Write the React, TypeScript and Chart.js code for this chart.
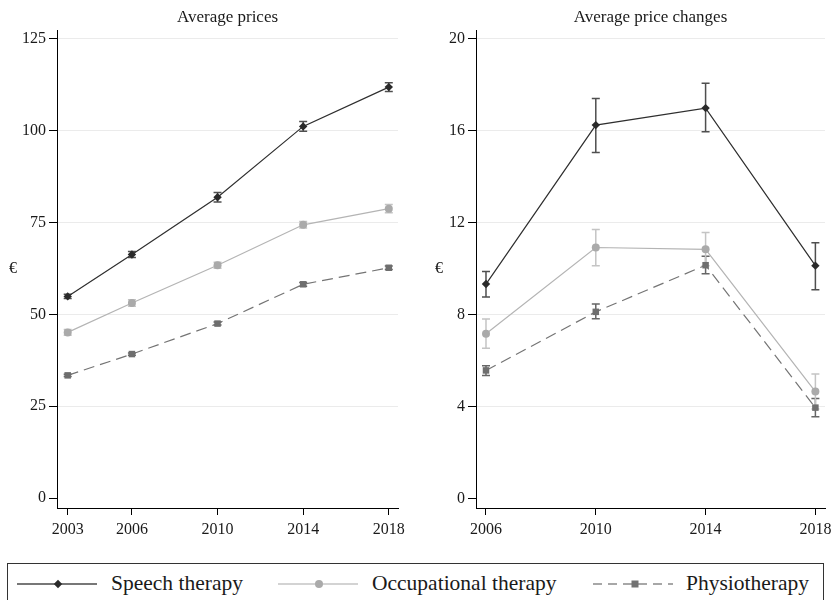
import React, { useEffect, useRef } from "react";
import { Chart, registerables } from "chart.js";

Chart.register(...registerables);

// ---- Data -------------------------------------------------------------
const priceYears = [2003, 2006, 2010, 2014, 2018];
const changeYears = [2006, 2010, 2014, 2018];
const priceTicks = [0, 25, 50, 75, 100, 125];
const changeTicks = [0, 4, 8, 12, 16, 20];

// Average prices (€) with 95% confidence bounds
const speechPrice = [54.9, 66.3, 81.9, 101.2, 111.9];
const speechPriceLo = [54.3, 65.5, 80.6, 99.9, 110.7];
const speechPriceHi = [55.5, 67.1, 83.2, 102.5, 113.1];

const occupPrice = [45.1, 53.1, 63.4, 74.4, 78.8];
const occupPriceLo = [44.3, 52.2, 62.6, 73.5, 77.7];
const occupPriceHi = [45.9, 54.0, 64.2, 75.3, 79.9];

const physioPrice = [33.4, 39.2, 47.5, 58.2, 62.7];
const physioPriceLo = [33.1, 38.9, 47.1, 57.7, 62.2];
const physioPriceHi = [33.7, 39.5, 47.9, 58.7, 63.2];

// Average price changes (€) with 95% confidence bounds
const speechChange = [9.33, 16.25, 16.99, 10.13];
const speechChangeLo = [8.77, 15.06, 15.96, 9.08];
const speechChangeHi = [9.88, 17.41, 18.07, 11.13];

const occupChange = [7.17, 10.92, 10.84, 4.65];
const occupChangeLo = [6.54, 10.13, 10.13, 3.89];
const occupChangeHi = [7.81, 11.71, 11.57, 5.41];

const physioChange = [5.57, 8.12, 10.15, 3.95];
const physioChangeLo = [5.35, 7.82, 9.78, 3.55];
const physioChangeHi = [5.77, 8.46, 10.54, 4.35];

const seriesNames = ["Speech therapy", "Occupational therapy", "Physiotherapy"];
const panelTitles = ["Average prices", "Average price changes"];
const unitLabel = "€";

// ---- Styling ----------------------------------------------------------
const SERIF = "'Liberation Serif', 'Times New Roman', serif";
const TEXT = "#1a1a1a";

const styles = [
  { line: "#2e2e2e", point: "#2a2a2a", err: "#4f4f4f", pointStyle: "rectRot", radius: 4.2, dash: [] as number[] },
  { line: "#b4b4b4", point: "#aaaaaa", err: "#c4c4c4", pointStyle: "circle", radius: 4, dash: [] as number[] },
  { line: "#747474", point: "#6e6e6e", err: "#666666", pointStyle: "rect", radius: 4.6, dash: [11, 6] },
];

// Vertical confidence-interval caps drawn beneath the lines
const errorBars = {
  id: "errorBars",
  beforeDatasetsDraw(chart: any) {
    const { ctx } = chart;
    const yScale = chart.scales.y;
    const n = chart.data.datasets.length;
    for (let i = n - 1; i >= 0; i--) {
      const ds: any = chart.data.datasets[i];
      if (!ds.lower || !ds.upper) continue;
      const meta = chart.getDatasetMeta(i);
      ctx.save();
      ctx.strokeStyle = ds.errorColor;
      ctx.lineWidth = 1.5;
      meta.data.forEach((pt: any, j: number) => {
        const x = pt.x;
        const y1 = yScale.getPixelForValue(ds.lower[j]);
        const y2 = yScale.getPixelForValue(ds.upper[j]);
        ctx.beginPath();
        ctx.moveTo(x, y1);
        ctx.lineTo(x, y2);
        ctx.moveTo(x - 4, y1);
        ctx.lineTo(x + 4, y1);
        ctx.moveTo(x - 4, y2);
        ctx.lineTo(x + 4, y2);
        ctx.stroke();
      });
      ctx.restore();
    }
  },
};

// Upright unit label to the left of the y axis
const unitPlugin = {
  id: "unitLabel",
  afterDraw(chart: any, _args: any, opts: any) {
    const { ctx, chartArea } = chart;
    ctx.save();
    ctx.font = `16px ${SERIF}`;
    ctx.fillStyle = TEXT;
    ctx.textAlign = "center";
    ctx.textBaseline = "middle";
    ctx.fillText(opts.text, opts.x, (chartArea.top + chartArea.bottom) / 2);
    ctx.restore();
  },
};

type Panel = {
  years: number[];
  ticks: number[];
  series: number[][];
  lows: number[][];
  highs: number[][];
  title: string;
  xMin: number;
  xMax: number;
  yMin: number;
  yMax: number;
  yWidth: number;
  padRight: number;
  unitX: number;
};

function buildConfig(p: Panel): any {
  return {
    type: "line",
    data: {
      datasets: p.series.map((vals, i) => ({
        label: seriesNames[i],
        data: vals.map((v, j) => ({ x: p.years[j], y: v })),
        lower: p.lows[i],
        upper: p.highs[i],
        errorColor: styles[i].err,
        borderColor: styles[i].line,
        borderWidth: 1.2,
        borderDash: styles[i].dash,
        pointStyle: styles[i].pointStyle,
        pointRadius: styles[i].radius,
        pointBackgroundColor: styles[i].point,
        pointBorderColor: styles[i].point,
        pointBorderWidth: 0,
        tension: 0,
        fill: false,
      })),
    },
    options: {
      responsive: false,
      animation: false,
      events: [],
      layout: { padding: { left: 0, top: 0, right: p.padRight, bottom: 0 } },
      plugins: {
        legend: { display: false },
        tooltip: { enabled: false },
        title: {
          display: true,
          text: p.title,
          fullSize: false,
          color: TEXT,
          font: { family: SERIF, size: 17, weight: "normal", lineHeight: 1.2 },
          padding: { top: 7, bottom: 2.6 },
        },
        unitLabel: { text: unitLabel, x: p.unitX },
      },
      scales: {
        x: {
          type: "linear",
          min: p.xMin,
          max: p.xMax,
          afterBuildTicks: (s: any) => {
            s.ticks = p.years.map((v) => ({ value: v }));
          },
          afterFit: (s: any) => {
            s.height = 37;
            s.paddingLeft = 0;
            s.paddingRight = 0;
          },
          ticks: {
            color: TEXT,
            font: { family: SERIF, size: 16 },
            padding: 5,
            maxRotation: 0,
            autoSkip: false,
            callback: (v: any) => String(v),
          },
          grid: {
            display: true,
            drawOnChartArea: false,
            drawTicks: true,
            tickLength: 7,
            tickColor: "#000",
            tickWidth: 1,
          },
          border: { display: true, color: "#000", width: 1 },
        },
        y: {
          type: "linear",
          min: p.yMin,
          max: p.yMax,
          afterBuildTicks: (s: any) => {
            s.ticks = p.ticks.map((v) => ({ value: v }));
          },
          afterFit: (s: any) => {
            s.width = p.yWidth;
            s.paddingTop = 0;
            s.paddingBottom = 0;
          },
          ticks: {
            color: TEXT,
            font: { family: SERIF, size: 16 },
            padding: 3,
            autoSkip: false,
            callback: (v: any) => String(v),
          },
          grid: {
            display: true,
            drawTicks: true,
            tickLength: 8,
            tickColor: "#000",
            tickWidth: 1,
            lineWidth: 1,
            color: (c: any) => (c.tick && c.tick.value === 0 ? "rgba(0,0,0,0)" : "#ebebeb"),
          },
          border: { display: true, color: "#000", width: 1 },
        },
      },
    },
    plugins: [errorBars, unitPlugin],
  };
}

const leftPanel: Panel = {
  years: priceYears,
  ticks: priceTicks,
  series: [speechPrice, occupPrice, physioPrice],
  lows: [speechPriceLo, occupPriceLo, physioPriceLo],
  highs: [speechPriceHi, occupPriceHi, physioPriceHi],
  title: panelTitles[0],
  xMin: 2002.5,
  xMax: 2018.43,
  yMin: -2.72,
  yMax: 127.45,
  yWidth: 57,
  padRight: 12,
  unitX: 13,
};

const rightPanel: Panel = {
  years: changeYears,
  ticks: changeTicks,
  series: [speechChange, occupChange, physioChange],
  lows: [speechChangeLo, occupChangeLo, physioChangeLo],
  highs: [speechChangeHi, occupChangeHi, physioChangeHi],
  title: panelTitles[1],
  xMin: 2005.636,
  xMax: 2018.35,
  yMin: -0.42,
  yMax: 20.39,
  yWidth: 66,
  padRight: 7,
  unitX: 29,
};

function PanelChart({ panel, left, width }: { panel: Panel; left: number; width: number }) {
  const ref = useRef<HTMLCanvasElement | null>(null);
  useEffect(() => {
    if (!ref.current) return;
    const chart = new Chart(ref.current, buildConfig(panel));
    return () => chart.destroy();
  }, [panel]);
  return (
    <canvas
      ref={ref}
      width={width}
      height={545}
      style={{ position: "absolute", left, top: 0, width, height: 545 }}
    />
  );
}

function Legend() {
  const cy = 29;
  const fs = 21.5;
  return (
    <svg
      width={832}
      height={45}
      style={{ position: "absolute", left: 0, top: 555 }}
      fontFamily={SERIF}
    >
      <rect x={7.5} y={8.5} width={816} height={60} fill="none" stroke="#333" strokeWidth={1} />
      {/* Speech therapy */}
      <line x1={17} x2={97} y1={cy} y2={cy} stroke="#4a4a4a" strokeWidth={1.5} />
      <polygon points={`58,${cy - 4.2} 62.2,${cy} 58,${cy + 4.2} 53.8,${cy}`} fill="#2a2a2a" />
      <text x={111} y={35} fontSize={fs} fill={TEXT}>{seriesNames[0]}</text>
      {/* Occupational therapy */}
      <line x1={278} x2={358} y1={cy} y2={cy} stroke="#c4c4c4" strokeWidth={1.5} />
      <circle cx={319} cy={cy} r={4} fill="#aaaaaa" />
      <text x={372} y={35} fontSize={fs} fill={TEXT}>{seriesNames[1]}</text>
      {/* Physiotherapy */}
      <line x1={593} x2={673} y1={cy} y2={cy} stroke="#8a8a8a" strokeWidth={1.5} strokeDasharray="9 6" />
      <rect x={631.5} y={cy - 3.5} width={7} height={7} fill="#727272" />
      <text x={686} y={35} fontSize={fs} fill={TEXT}>{seriesNames[2]}</text>
    </svg>
  );
}

export default function App() {
  return (
    <div
      style={{
        position: "absolute",
        left: 0,
        top: 0,
        width: 832,
        height: 600,
        overflow: "hidden",
        background: "#fff",
      }}
    >
      <PanelChart panel={leftPanel} left={0} width={410} />
      <PanelChart panel={rightPanel} left={410} width={422} />
      <Legend />
    </div>
  );
}
